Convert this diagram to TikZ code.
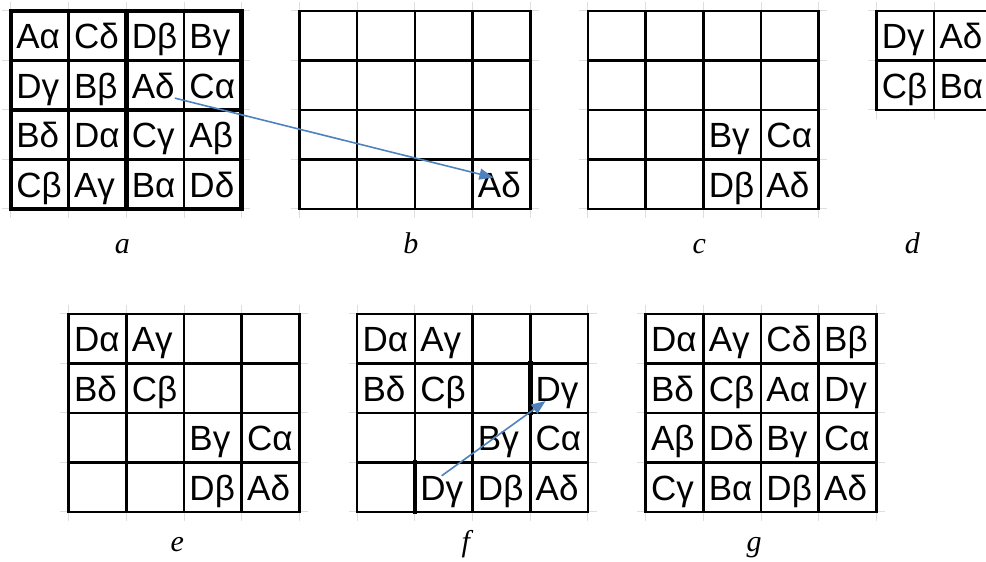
\documentclass[tikz,border=0pt]{standalone}
\usepackage{fontspec}
\setmainfont{Liberation Serif}
\setsansfont{Liberation Sans}
\usetikzlibrary{arrows.meta}
\definecolor{arrowblue}{RGB}{79,129,189}
\tikzset{>=stealth,
  rule/.style={line width=2.6pt, line cap=rect},
  heavy/.style={line width=4.6pt, line cap=rect},
  stub/.style={line width=1pt, black!13},
  cell/.style={anchor=base west, inner sep=0pt, font=\sffamily\fontsize{35}{40}\selectfont},
  caption/.style={anchor=base, inner sep=0pt, font=\itshape\fontsize{30}{32}\selectfont},
  move/.style={draw=arrowblue, line width=1.6pt, -{Triangle[length=14pt,width=11pt]}}}
\newcommand{\sheet}[1]{%
  \foreach \k in {0,...,#1} {
    \draw[stub] (\k,-0.18) -- (\k,#1+0.18);
    \draw[stub] (-0.15,\k) -- (#1+0.15,\k);}
  \foreach \k in {0,...,#1} {
    \draw[rule] (\k,0) -- (\k,#1);
    \draw[rule] (0,\k) -- (#1,\k);}}

\begin{document}
\begin{tikzpicture}[x=57.7pt, y=-49.5pt]
    \useasboundingbox (-0.1906,-0.2222) rectangle (16.898,11.131);
    \clip (-0.1906,-0.2222) rectangle (16.898,11.131);
    % a
    \begin{scope}
        \sheet{4}
        \draw[heavy] (0,0) rectangle (4,4) (2,0) -- (2,4) (0,2) -- (4,2);
        \foreach \r/\c/\t in {1/1/Aα, 1/2/Cδ, 1/3/Dβ, 1/4/Bγ, 2/1/Dγ, 2/2/Bβ, 2/3/Aδ, 2/4/Cα,
            3/1/Bδ, 3/2/Dα, 3/3/Cγ, 3/4/Aβ, 4/1/Cβ, 4/2/Aγ, 4/3/Bα, 4/4/Dδ}
            \node[cell] (a\r\c) at (\c-0.91,\r-0.24) {\t};
        \node[caption] (la) at (1.93,4.89) {a};
    \end{scope}
    % b
    \begin{scope}[shift={(5,0)}]
        \sheet{4}
        \node[cell] (b44) at (3.09,3.76) {Aδ};
        \node[caption] (lb) at (1.93,4.89) {b};
    \end{scope}
    % c
    \begin{scope}[shift={(10,0)}]
        \sheet{4}
        \foreach \r/\c/\t in {3/3/Bγ, 3/4/Cα, 4/3/Dβ, 4/4/Aδ}
            \node[cell] (c\r\c) at (\c-0.91,\r-0.24) {\t};
        \node[caption] (lc) at (1.93,4.89) {c};
    \end{scope}
    % d
    \begin{scope}[shift={(15,0)}]
        \sheet{2}
        \foreach \r/\c/\t in {1/1/Dγ, 1/2/Aδ, 2/1/Cβ, 2/2/Bα}
            \node[cell] (d\r\c) at (\c-0.91,\r-0.24) {\t};
        \node[caption] (ld) at (0.62,4.89) {d};
    \end{scope}
    % e
    \begin{scope}[shift={(1,6.12)}]
        \sheet{4}
        \foreach \r/\c/\t in {1/1/Dα, 1/2/Aγ, 2/1/Bδ, 2/2/Cβ, 3/3/Bγ, 3/4/Cα, 4/3/Dβ, 4/4/Aδ}
            \node[cell] (e\r\c) at (\c-0.91,\r-0.24) {\t};
        \node[caption] (le) at (1.88,4.8) {e};
    \end{scope}
    % f
    \begin{scope}[shift={(6,6.12)}]
        \sheet{4}
        \draw[heavy] (1,3) -- (1,4) (3,1) -- (3,2);
        \foreach \r/\c/\t in {1/1/Dα, 1/2/Aγ, 2/1/Bδ, 2/2/Cβ, 2/4/Dγ, 3/3/Bγ, 3/4/Cα,
            4/2/Dγ, 4/3/Dβ, 4/4/Aδ}
            \node[cell] (f\r\c) at (\c-0.91,\r-0.24) {\t};
        \node[caption] (lf) at (1.88,4.8) {f};
    \end{scope}
    % g
    \begin{scope}[shift={(11,6.12)}]
        \sheet{4}
        \foreach \r/\c/\t in {1/1/Dα, 1/2/Aγ, 1/3/Cδ, 1/4/Bβ, 2/1/Bδ, 2/2/Cβ, 2/3/Aα, 2/4/Dγ,
            3/1/Aβ, 3/2/Dδ, 3/3/Bγ, 3/4/Cα, 4/1/Cγ, 4/2/Bα, 4/3/Dβ, 4/4/Aδ}
            \node[cell] (g\r\c) at (\c-0.91,\r-0.24) {\t};
        \node[caption] (lg) at (1.88,4.8) {g};
    \end{scope}
    % moves
    \draw[move] (a23.base east) -- ([xshift=-6pt,yshift=-6pt]b44.north);
    \draw[move] (f42.north) -- ([xshift=10pt]f24.base west);
\end{tikzpicture}
\end{document}
